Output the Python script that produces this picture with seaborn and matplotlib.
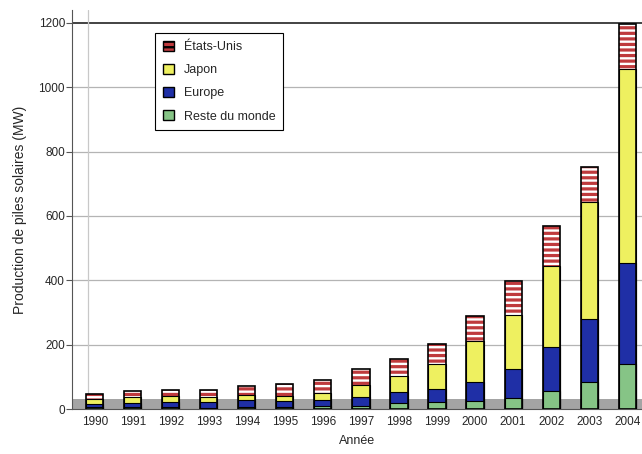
import pandas as pd
import matplotlib.pyplot as plt
from matplotlib.patches import Patch
import seaborn as sns

# production de piles solaires (MW)
annees = ['1990', '1991', '1992', '1993', '1994', '1995', '1996', '1997',
          '1998', '1999', '2000', '2001', '2002', '2003', '2004']
reste_du_monde = [5, 5, 5, 4, 6, 6, 10, 9, 19, 21, 24, 35, 55, 85, 140]
europe = [10, 13, 16, 17, 22, 20, 19, 30, 34, 40, 61, 88, 137, 195, 314]
japon = [17, 20, 19, 17, 17, 16, 21, 35, 49, 80, 128, 170, 252, 364, 602]
etats_unis = [15, 17, 18, 22, 26, 35, 39, 51, 54, 62, 77, 104, 124, 108, 140]

sns.set_style('white')
plt.rcParams['font.family'] = ['Liberation Sans', 'DejaVu Sans']
plt.rcParams['hatch.linewidth'] = 1.7

df = pd.DataFrame({'annee': annees, 'rdm': reste_du_monde, 'eur': europe,
                   'jap': japon, 'us': etats_unis})
df['c_eur'] = df['rdm'] + df['eur']
df['c_jap'] = df['c_eur'] + df['jap']
df['c_us'] = df['c_jap'] + df['us']

rouge = '#bf3a3d'
jaune = '#eef060'
bleu = '#1f2fa6'
vert = '#86c486'

fig = plt.figure(figsize=(6.42, 4.54), dpi=100)
ax = fig.add_axes([0.112, 0.099, 0.888, 0.879])

# sol et paroi du fond
ax.axhspan(0, 30, color='#a4a4a4', zorder=0.5, lw=0)
ax.plot([-0.18, -0.18], [30, 1240], color='#c8c8c8', lw=0.9, zorder=0.4)

w = 0.45
sns.barplot(data=df, x='annee', y='c_us', color=rouge, hatch='---',
            edgecolor='white', linewidth=0, width=w, errorbar=None,
            saturation=1, ax=ax, zorder=2)
sns.barplot(data=df, x='annee', y='c_jap', color=jaune, edgecolor='black',
            linewidth=0.8, width=w, errorbar=None, saturation=1, ax=ax, zorder=3)
sns.barplot(data=df, x='annee', y='c_eur', color=bleu, edgecolor='black',
            linewidth=0.8, width=w, errorbar=None, saturation=1, ax=ax, zorder=4)
sns.barplot(data=df, x='annee', y='rdm', color=vert, edgecolor='black',
            linewidth=0.8, width=w, errorbar=None, saturation=1, ax=ax, zorder=5)
sns.barplot(data=df, x='annee', y='c_us', color='black', fill=False,
            linewidth=1.2, width=w, errorbar=None, ax=ax, zorder=6)

ax.set_xlim(-0.6, 14.39)
ax.set_ylim(0, 1240)
ax.set_yticks(range(0, 1201, 200))
for v in range(200, 1001, 200):
    ax.axhline(v, color='#b4b4b4', lw=0.9, zorder=0.3)
ax.axhline(1200, color='#222222', lw=1.2, zorder=0.3)

for s in ['top', 'right']:
    ax.spines[s].set_visible(False)
ax.spines['left'].set_color('#555555')
ax.spines['bottom'].set_color('#555555')
ax.tick_params(axis='y', length=4, width=0.8, color='#555555',
               labelsize=8.5, pad=1, left=True)
ax.tick_params(axis='x', length=0, labelsize=8.5, pad=5)

ax.set_xlabel('Année', fontsize=9, labelpad=5)
ax.set_ylabel('Production de piles solaires (MW)', fontsize=10, labelpad=8)

poignees = [
    Patch(facecolor=rouge, edgecolor='black', hatch='---', label='États-Unis'),
    Patch(facecolor=jaune, edgecolor='black', label='Japon'),
    Patch(facecolor=bleu, edgecolor='black', label='Europe'),
    Patch(facecolor=vert, edgecolor='black', label='Reste du monde'),
]
leg = ax.legend(handles=poignees, loc='upper left',
                bbox_to_anchor=(0.146, 0.942), borderaxespad=0,
                fontsize=9, handlelength=0.9, handleheight=0.9,
                labelspacing=0.85, handletextpad=0.8, borderpad=0.6,
                fancybox=False, framealpha=1, edgecolor='black')
leg.get_frame().set_linewidth(0.8)

fig.savefig('out.png', dpi=100)
